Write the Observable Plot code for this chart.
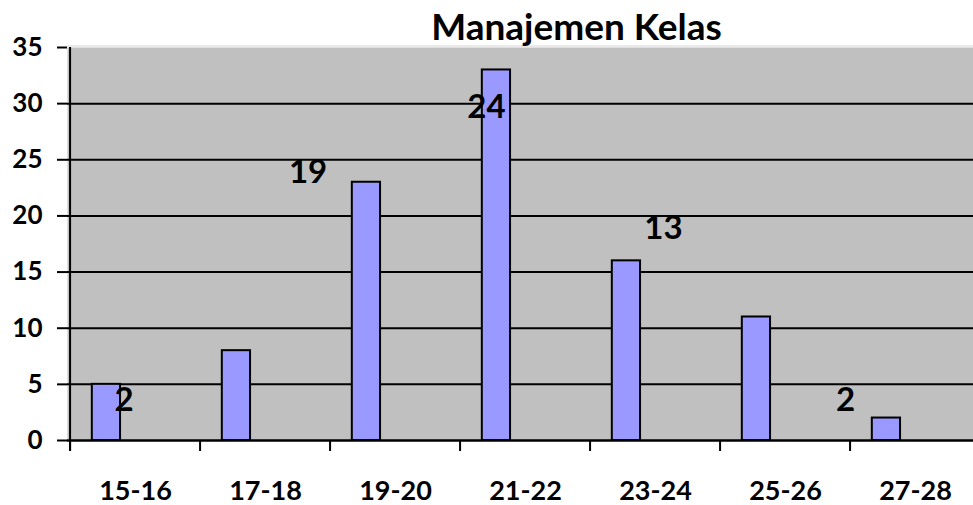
<!DOCTYPE html>
<html><head><meta charset="utf-8">
<script src="https://cdn.jsdelivr.net/npm/d3@7"></script>
<script src="https://cdn.jsdelivr.net/npm/@observablehq/plot@0.6"></script>
<style>
html,body{margin:0;padding:0;background:#fff;overflow:hidden;}
#wrap{width:973px;height:505px;overflow:hidden;}
#wrap svg{max-width:none !important;}
</style></head><body><div id="wrap"></div>
<script>
// ---- data ----
const categories = ["15-16","17-18","19-20","21-22","23-24","25-26","27-28"];
const counts = [5, 8, 23, 33, 16, 11, 2];
const yTicks = [0, 5, 10, 15, 20, 25, 30, 35];
const gridValues = [5, 10, 15, 20, 25, 30];
const labelCategories = ["15-16","17-18","21-22","23-24","25-26"];
const labelTexts = ["2","19","24","13","2"];
const title = "Manajemen Kelas";

// ---- layout (label placement as seen in the picture) ----
const labelY = [3.56, 23.9, 29.7, 18.9, 3.56];
const labelDx = [-11.5, 42.6, -39, 8, 60];

const bars = categories.map((c, i) => ({cat: c, count: counts[i]}));
const labels = labelCategories.map((c, i) => ({cat: c, text: labelTexts[i], y: labelY[i]}));

const W = 983, ML = 67, MR = 0;
const step = (W - ML - MR) / categories.length;

const plot = Plot.plot({
  width: W, height: 505,
  marginLeft: ML, marginRight: MR, marginTop: 47, marginBottom: 65,
  style: {fontFamily: "Lato, 'Open Sans', sans-serif", background: "white", color: "black"},
  x: {domain: categories, padding: 0, label: null},
  y: {domain: [0, 35], label: null},
  marks: [
    Plot.frame({fill: "#c0c0c0", stroke: null}),
    Plot.ruleY([35], {stroke: "#d4d4d4", strokeWidth: 1, dy: -1.5}),
    Plot.ruleY(gridValues, {stroke: "black", strokeWidth: 2}),
    Plot.barY(bars, {x: "cat", y: "count", fill: "#9999ff", stroke: "black", strokeWidth: 2,
      insetLeft: step * 0.1667, insetRight: step * 0.611}),
    Plot.ruleY([0], {stroke: "black", strokeWidth: 2.5}),
    Plot.ruleX(categories, {x: d => d, y1: 0, y2: 0, insetBottom: -11, dx: -step / 2, stroke: "black", strokeWidth: 2}),
    Plot.ruleX([categories[0]], {x: d => d, insetBottom: -11, dx: -step / 2, stroke: "black", strokeWidth: 2}),
    Plot.axisY({ticks: yTicks, tickSize: 10, tickPadding: 15, fontSize: 26, fontWeight: "bold", strokeWidth: 2, tickFormat: d => String(d), label: null}),
    Plot.axisX({tickSize: 0, tickPadding: 40, fontSize: 27, fontWeight: "bold", label: null}),
    ...labels.map((d, i) => Plot.text([d], {x: "cat", y: "y", text: "text", dx: labelDx[i],
      fontSize: 33, fontWeight: "bold", fill: "black"})),
    Plot.text([title], {text: d => d, frameAnchor: "top-left", dx: 576 - ML, dy: -19,
      lineAnchor: "middle", fontSize: 37, fontWeight: "bold", textAnchor: "middle", fill: "black"})
  ]
});
document.getElementById("wrap").appendChild(plot);
</script></body></html>
